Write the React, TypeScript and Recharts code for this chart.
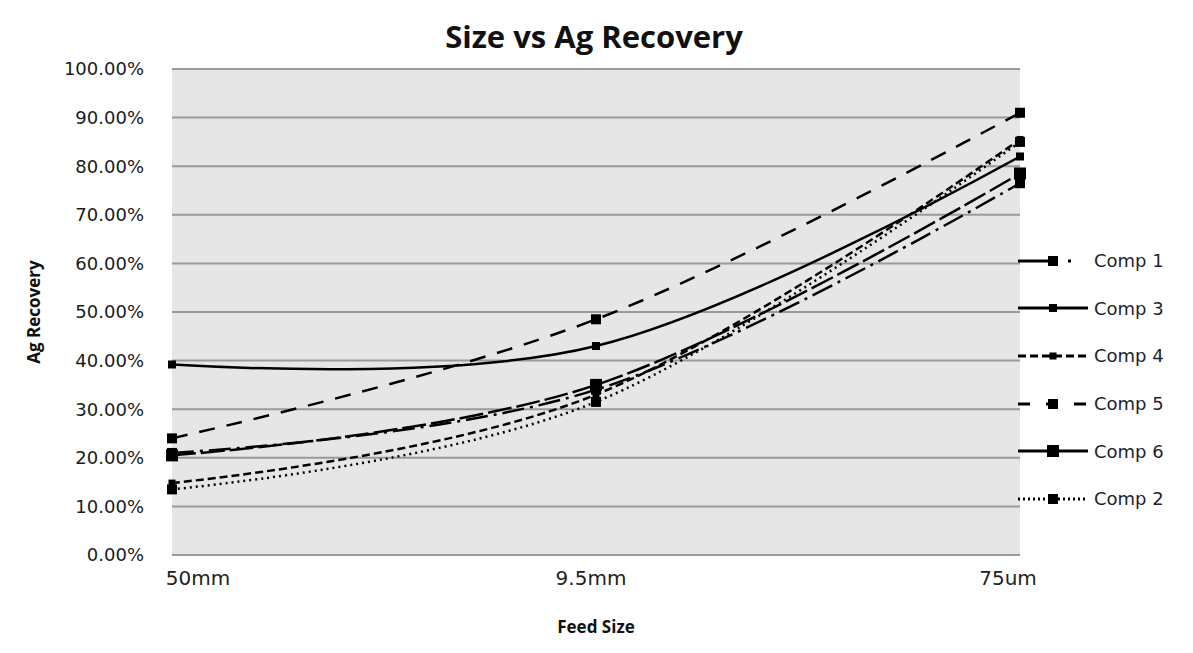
import React from 'react';
import { LineChart, Line, XAxis, YAxis, CartesianGrid, Label } from 'recharts';

const SIZES = ['50mm', '9.5mm', '75um'];
const COMP1 = [0.21, 0.34, 0.765];
const COMP3 = [0.392, 0.43, 0.82];
const COMP4 = [0.148, 0.33, 0.855];
const COMP5 = [0.24, 0.485, 0.91];
const COMP6 = [0.205, 0.35, 0.785];
const COMP2 = [0.135, 0.315, 0.85];
const Y_TICKS = [0, 0.1, 0.2, 0.3, 0.4, 0.5, 0.6, 0.7, 0.8, 0.9, 1];

const data = SIZES.map((s, i) => ({
  size: s,
  comp1: COMP1[i],
  comp3: COMP3[i],
  comp4: COMP4[i],
  comp5: COMP5[i],
  comp6: COMP6[i],
  comp2: COMP2[i],
}));

const SERIES = [
  { key: 'comp1', name: 'Comp 1', dash: '22 6 3 6', marker: 10 },
  { key: 'comp3', name: 'Comp 3', dash: undefined, marker: 8 },
  { key: 'comp4', name: 'Comp 4', dash: '8 4', marker: 7 },
  { key: 'comp5', name: 'Comp 5', dash: '16 12', marker: 10 },
  { key: 'comp6', name: 'Comp 6', dash: '24 5', marker: 12 },
  { key: 'comp2', name: 'Comp 2', dash: '2 4', marker: 10 },
];

const LEGEND_DASH: Record<string, string | undefined> = {
  comp1: '40 10 3 20',
  comp3: undefined,
  comp4: '8 4',
  comp5: '12 16',
  comp6: undefined,
  comp2: '2 3',
};

// Excel-style smoothed line (bezier through the points)
const END_K = 0.15;
const excelCurve = (context: any) => {
  let pts: number[][] = [];
  return {
    areaStart() {},
    areaEnd() {},
    lineStart() { pts = []; },
    point(x: number, y: number) { pts.push([+x, +y]); },
    lineEnd() {
      const n = pts.length;
      if (!n) return;
      context.moveTo(pts[0][0], pts[0][1]);
      if (n === 2) { context.lineTo(pts[1][0], pts[1][1]); return; }
      const T = pts.map((p, i) => {
        if (i === 0 || i === n - 1) return [0, 0];
        return [(pts[i + 1][0] - pts[i - 1][0]) / 6, (pts[i + 1][1] - pts[i - 1][1]) / 6];
      });
      for (let i = 0; i < n - 1; i++) {
        const a = pts[i];
        const b = pts[i + 1];
        let c1 = [a[0] + T[i][0], a[1] + T[i][1]];
        let c2 = [b[0] - T[i + 1][0], b[1] - T[i + 1][1]];
        if (i === 0) c1 = [a[0] + END_K * (c2[0] - a[0]), a[1] + END_K * (c2[1] - a[1])];
        if (i === n - 2) c2 = [b[0] + END_K * (c1[0] - b[0]), b[1] + END_K * (c1[1] - b[1])];
        context.bezierCurveTo(c1[0], c1[1], c2[0], c2[1], b[0], b[1]);
      }
    },
  };
};

const makeDot = (size: number) => (props: any) => {
  const { cx, cy, index } = props;
  if (cx == null || cy == null) return <g key={index} />;
  return <rect key={index} x={cx - size / 2} y={cy - size / 2} width={size} height={size} fill="#000" />;
};

// label offsets as seen in the original
const TICK_SHIFT = [26, -5, -12];

const XTick = (props: any) => {
  const { x, y, payload, index } = props;
  return (
    <text x={x + (TICK_SHIFT[index] || 0)} y={y + 22} textAnchor="middle" fontSize={20}
      fontFamily="DejaVu Sans" fill="#222">
      {payload.value}
    </text>
  );
};

const LegendBox = () => (
  <div style={{
    position: 'absolute', left: 1016, top: 237, fontFamily: 'DejaVu Sans', fontSize: 18, color: '#1f1f2f',
  }}>
    {SERIES.map((s) => (
      <div key={s.key} style={{ display: 'flex', alignItems: 'center', height: 47.6 }}>
        <svg width={74} height={20}>
          <line x1={2} y1={10} x2={72} y2={10} stroke="#000" strokeWidth={3}
            strokeDasharray={LEGEND_DASH[s.key]} />
          <rect x={37 - s.marker / 2} y={10 - s.marker / 2} width={s.marker} height={s.marker} fill="#000" />
        </svg>
        <span style={{ marginLeft: 4 }}>{s.name}</span>
      </div>
    ))}
  </div>
);

export default function App() {
  return (
    <div style={{ position: 'absolute', left: 0, top: 0, width: 1193, height: 653, background: '#fff' }}>
      <div style={{
        position: 'absolute', left: 405, width: 378, top: 15, textAlign: 'center',
        fontFamily: 'Open Sans', fontWeight: 700, fontSize: 31, color: '#111',
      }}>
        Size vs Ag Recovery
      </div>
      <LineChart width={1193} height={653} data={data}
        margin={{ top: 69, right: 173, bottom: 40, left: 0 }}>
        <CartesianGrid vertical={false} stroke="#9a9a9a" strokeWidth={2} fill="#e6e6e6" />
        <XAxis dataKey="size" tick={<XTick />} tickLine={false} axisLine={false} height={58} interval={0}>
          <Label value="Feed Size" position="insideBottom" offset={-20}
            style={{ fontFamily: 'Open Sans', fontWeight: 700, fontSize: 17, fill: '#111' }} />
        </XAxis>
        <YAxis domain={[0, 1]} ticks={Y_TICKS} interval={0} width={172} tickLine={false} axisLine={false}
          tickFormatter={(v) => (v * 100).toFixed(2) + '%'}
          tick={{ fontFamily: 'DejaVu Sans', fontSize: 18, fill: '#1a1a1a' }} tickMargin={22}>
          <Label value="Ag Recovery" angle={-90} position="insideLeft" offset={34}
            style={{ textAnchor: 'middle', fontFamily: 'Open Sans', fontWeight: 700, fontSize: 17, fill: '#111' }} />
        </YAxis>
        {SERIES.map((s) => (
          <Line key={s.key} dataKey={s.key} name={s.name} type={excelCurve as any} stroke="#000"
            strokeWidth={2.5} strokeDasharray={s.dash} dot={makeDot(s.marker)}
            activeDot={false} isAnimationActive={false} />
        ))}
      </LineChart>
      <LegendBox />
    </div>
  );
}
